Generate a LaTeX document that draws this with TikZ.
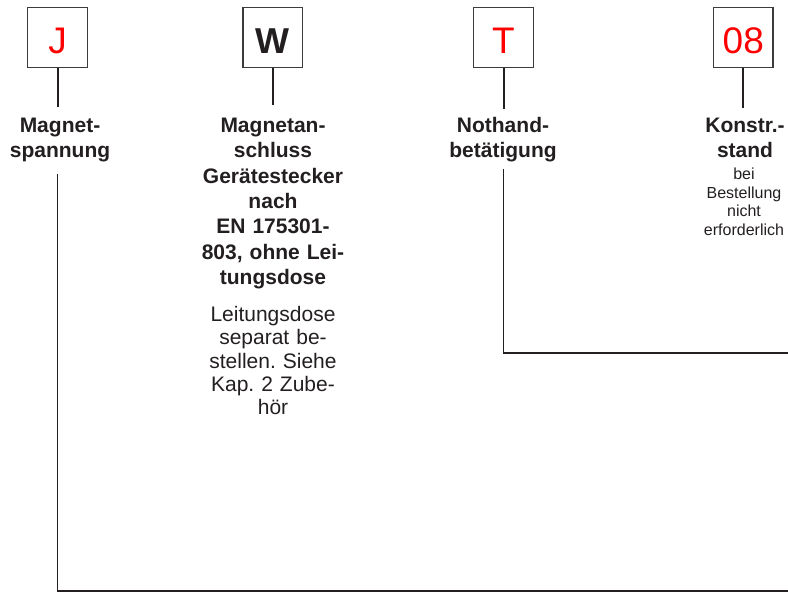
\documentclass[tikz,border=0pt]{standalone}
\usepackage{fontspec}
\setmainfont{Liberation Sans}
\frenchspacing
\definecolor{ink}{RGB}{35,31,32}
\definecolor{codered}{RGB}{255,0,0}
\definecolor{boxline}{RGB}{60,60,60}
\begin{document}
\begin{tikzpicture}[x=1pt,y=-1pt,
  codebox/.style={draw=boxline,line width=1.2pt,minimum size=59.5pt,inner sep=0pt,text height=31pt,text depth=0pt,font=\fontsize{37}{40}\selectfont},
  redcode/.style={codebox,text=codered},
  blackcode/.style={codebox,text=ink,font=\fontsize{36}{40}\selectfont\bfseries},
  head/.style={anchor=base,inner sep=0pt,text width=170pt,align=center,text=ink,font=\fontsize{21}{25.3}\selectfont\bfseries\frenchspacing},
  note/.style={anchor=base,inner sep=0pt,text width=170pt,align=center,text=ink,font=\fontsize{21}{23.3}\selectfont\frenchspacing},
  smallnote/.style={anchor=base,inner sep=0pt,text width=120pt,align=center,text=ink,font=\fontsize{16}{18.8}\selectfont\frenchspacing},
  stem/.style={draw=ink,line width=2pt},
  lead/.style={draw=ink,line width=1.4pt}]
\useasboundingbox (0,0) rectangle (788,592);

\node[redcode] (bJ) at (57.5,37.5) {J};
\node[blackcode] (bW) at (272.7,37.5) {W};
\node[redcode] (bT) at (503.5,37.5) {T};
\node[redcode] (b08) at (743.3,37.5) {08};

\node[head] (lJ) at (60,132.5) {Magnet-\\spannung};
\node[head] (lW) at (273,132.5) {Magnetan-\\schluss\\Gerätestecker\\nach\\EN 175301-\\803, ohne Lei-\\tungsdose};
\node[note] (nW) at (273,321.5) {Leitungsdose\\separat be-\\stellen. Siehe\\Kap. 2 Zube-\\hör};
\node[head] (lT) at (503,132.5) {Nothand-\\betätigung};
\node[head,text width=120pt] (l08) at (745,132.5) {Konstr.-\\stand};
\node[smallnote] (s08) at (744,179.3) {bei\\Bestellung\\nicht\\erforderlich};

\draw[stem,shorten >=11pt] (bJ.south) -- (bJ.south |- lJ.north);
\draw[stem,shorten >=13pt] (bW.south) -- (bW.south |- lW.north);
\draw[stem,shorten >=8pt] (bT.south) -- (bT.south |- lT.north);
\draw[stem,shorten >=10pt] (b08.south) -- (b08.south |- l08.north);

\coordinate (cJ) at (788,591);
\coordinate (cT) at (788,353);
\draw[lead,shorten <=12pt] (bJ.south |- lJ.south) |- (cJ);
\draw[lead,shorten <=7pt] (bT.south |- lT.south) |- (cT);
\end{tikzpicture}
\end{document}
